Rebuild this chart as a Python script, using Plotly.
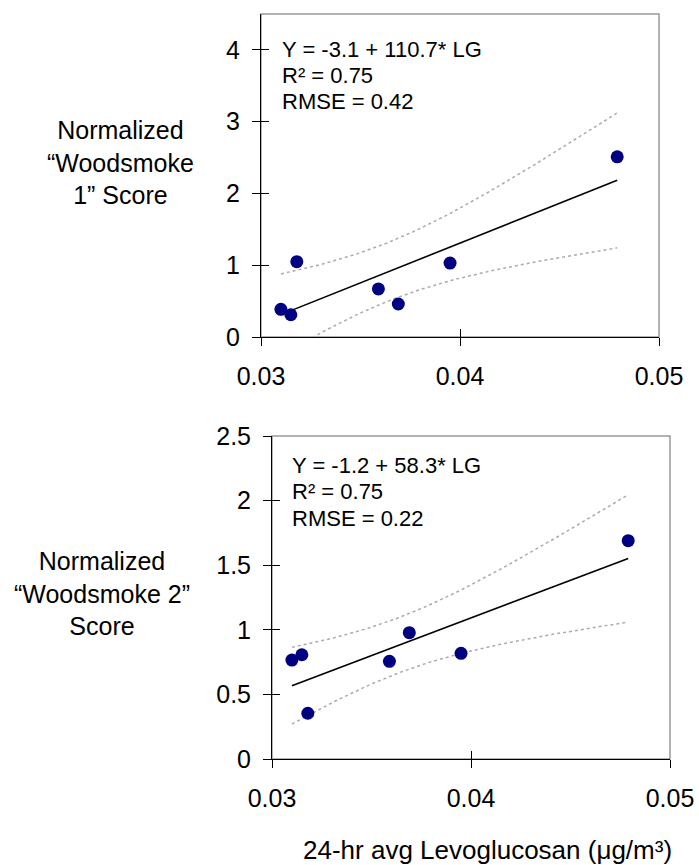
import numpy as np
import plotly.graph_objects as go

# ---- data ----
levoglucosan = [0.0310, 0.0315, 0.0318, 0.0359, 0.0369, 0.0395, 0.0479]  # ug/m3
woodsmoke1 = [0.385, 0.31, 1.05, 0.67, 0.46, 1.03, 2.51]
woodsmoke2 = [0.766, 0.807, 0.354, 0.756, 0.978, 0.818, 1.69]

# regression results (intercept, slope, R^2, RMSE)
intercept1, slope1, r2_1, rmse1 = -3.12, 110.7, 0.75, 0.42
intercept2, slope2, r2_2, rmse2 = -1.24, 58.3, 0.75, 0.22
T_CRIT = 2.571  # t(0.975, n-2 = 5)

x_ticks = [0.03, 0.04, 0.05]
x_ticktext = ["0.03", "0.04", "0.05"]
y1_ticks = [0, 1, 2, 3, 4]
y1_ticktext = ["0", "1", "2", "3", "4"]
y2_ticks = [0, 0.5, 1, 1.5, 2, 2.5]
y2_ticktext = ["0", "0.5", "1", "1.5", "2", "2.5"]

FONT = "Arial, Liberation Sans, sans-serif"
W, H = 699, 865


def conf_band(x, intercept, slope, rmse):
    """95% confidence band of the fitted mean."""
    x = np.asarray(x, dtype=float)
    grid = np.linspace(x.min(), x.max(), 80)
    sxx = ((x - x.mean()) ** 2).sum()
    fit = intercept + slope * grid
    hw = T_CRIT * rmse * np.sqrt(1 / len(x) + (grid - x.mean()) ** 2 / sxx)
    return grid, fit - hw, fit + hw


fig = go.Figure()

panels = [
    ("x", "y", woodsmoke1, intercept1, slope1, rmse1),
    ("x2", "y2", woodsmoke2, intercept2, slope2, rmse2),
]
for xa, ya, yvals, b0, b1, rmse in panels:
    g, lo, hi = conf_band(levoglucosan, b0, b1, rmse)
    for band in (lo, hi):
        fig.add_trace(go.Scatter(x=g, y=band, mode="lines", xaxis=xa, yaxis=ya,
                                 line=dict(color="#ababab", width=1.5, dash="dot"),
                                 showlegend=False, hoverinfo="skip"))
    xl = [min(levoglucosan), max(levoglucosan)]
    fig.add_trace(go.Scatter(x=xl, y=[b0 + b1 * v for v in xl], mode="lines",
                             xaxis=xa, yaxis=ya, line=dict(color="black", width=1.6),
                             showlegend=False, hoverinfo="skip"))
    fig.add_trace(go.Scatter(x=levoglucosan, y=yvals, mode="markers", xaxis=xa, yaxis=ya,
                             marker=dict(color="#000080", size=13),
                             showlegend=False))

# empty traces to activate the overlay axes carrying the inner tick halves
for xa, ya in (("x3", "y3"), ("x4", "y4")):
    fig.add_trace(go.Scatter(x=[], y=[], xaxis=xa, yaxis=ya, showlegend=False,
                             hoverinfo="skip"))

tickfont = dict(family=FONT, size=25, color="black")


def main_x(domain, anchor):
    return dict(domain=domain, anchor=anchor, range=[0.03, 0.05], automargin=False,
                tickmode="array", tickvals=x_ticks, ticktext=x_ticktext,
                ticks="outside", ticklen=8, tickwidth=1, tickcolor="black",
                showline=True, linecolor="black", linewidth=1,
                showgrid=False, zeroline=False, tickfont=tickfont,
                ticklabelstandoff=9)


def main_y(domain, anchor, rng, vals, text):
    return dict(domain=domain, anchor=anchor, range=rng, automargin=False,
                tickmode="array", tickvals=vals, ticktext=text,
                ticks="outside", ticklen=8, tickwidth=1, tickcolor="black",
                showline=True, linecolor="black", linewidth=1,
                showgrid=False, zeroline=False, tickfont=tickfont,
                ticklabelstandoff=7)


def inner_x(over, anchor):
    return dict(overlaying=over, anchor=anchor, side="bottom", range=[0.03, 0.05],
                automargin=False,
                tickmode="array", tickvals=x_ticks, ticks="inside", ticklen=8,
                tickwidth=1, tickcolor="black", showticklabels=False,
                showline=False, showgrid=False, zeroline=False)


def inner_y(over, anchor, rng, vals):
    return dict(overlaying=over, anchor=anchor, side="left", range=rng,
                automargin=False,
                tickmode="array", tickvals=vals, ticks="inside", ticklen=8,
                tickwidth=1, tickcolor="black", showticklabels=False,
                showline=False, showgrid=False, zeroline=False)


top_xd = [261 / W, 659 / W]
top_yd = [1 - 337 / H, 1 - 14 / H]
bot_xd = [272 / W, 670 / W]
bot_yd = [1 - 759 / H, 1 - 436 / H]

fig.update_layout(
    width=W, height=H,
    margin=dict(l=0, r=0, t=0, b=0, pad=0, autoexpand=False),
    paper_bgcolor="white", plot_bgcolor="white",
    font=dict(family=FONT, color="black"),
    xaxis=main_x(top_xd, "y"),
    yaxis=main_y(top_yd, "x", [0, 4.5], y1_ticks, y1_ticktext),
    xaxis2=main_x(bot_xd, "y2"),
    yaxis2=main_y(bot_yd, "x2", [0, 2.5], y2_ticks, y2_ticktext),
    xaxis3=inner_x("x", "y3"),
    yaxis3=inner_y("y", "x3", [0, 4.5], y1_ticks),
    xaxis4=inner_x("x2", "y4"),
    yaxis4=inner_y("y2", "x4", [0, 2.5], y2_ticks),
)

# plot-area frame (grey top/right edges)
for xr, yr in (("x domain", "y domain"), ("x2 domain", "y2 domain")):
    fig.add_shape(type="rect", xref=xr, yref=yr, x0=0, x1=1, y0=0, y1=1,
                  line=dict(color="#999999", width=1.5), layer="below")

eq_font = dict(family=FONT, size=22, color="black")
eq_blocks = [
    ("x domain", "y domain", 0.0477, [0.8907, 0.8111, 0.7285], intercept1, slope1, r2_1, rmse1),
    ("x2 domain", "y2 domain", 0.046, [0.9102, 0.8276, 0.7452], intercept2, slope2, r2_2, rmse2),
]
for xr, yr, x0, ys, b0, b1, r2, rmse in eq_blocks:
    lines = [
        f"Y = {b0:.1f} + {b1:.1f}* LG",
        f"R\u00b2 = {r2:.2f}",
        f"RMSE = {rmse:.2f}",
    ]
    for txt, yy in zip(lines, ys):
        fig.add_annotation(xref=xr, yref=yr, x=x0, y=yy, text=txt, showarrow=False,
                           xanchor="left", yanchor="middle", font=eq_font)

title_font = dict(family=FONT, size=25, color="black")
fig.add_annotation(xref="paper", yref="paper", x=120 / W, y=1 - 163 / H,
                   text="Normalized<br>\u201cWoodsmoke<br>1\u201d Score",
                   showarrow=False, xanchor="center", yanchor="middle",
                   align="center", font=title_font)
fig.add_annotation(xref="paper", yref="paper", x=102 / W, y=1 - 593 / H,
                   text="Normalized<br>\u201cWoodsmoke 2\u201d<br>Score",
                   showarrow=False, xanchor="center", yanchor="middle",
                   align="center", font=title_font)
fig.add_annotation(xref="paper", yref="paper", x=487 / W, y=1 - 850 / H,
                   text="24-hr avg Levoglucosan (\u03bcg/m\u00b3)",
                   showarrow=False, xanchor="center", yanchor="middle",
                   font=dict(family=FONT, size=26, color="black"))

fig.write_html("out.html")
